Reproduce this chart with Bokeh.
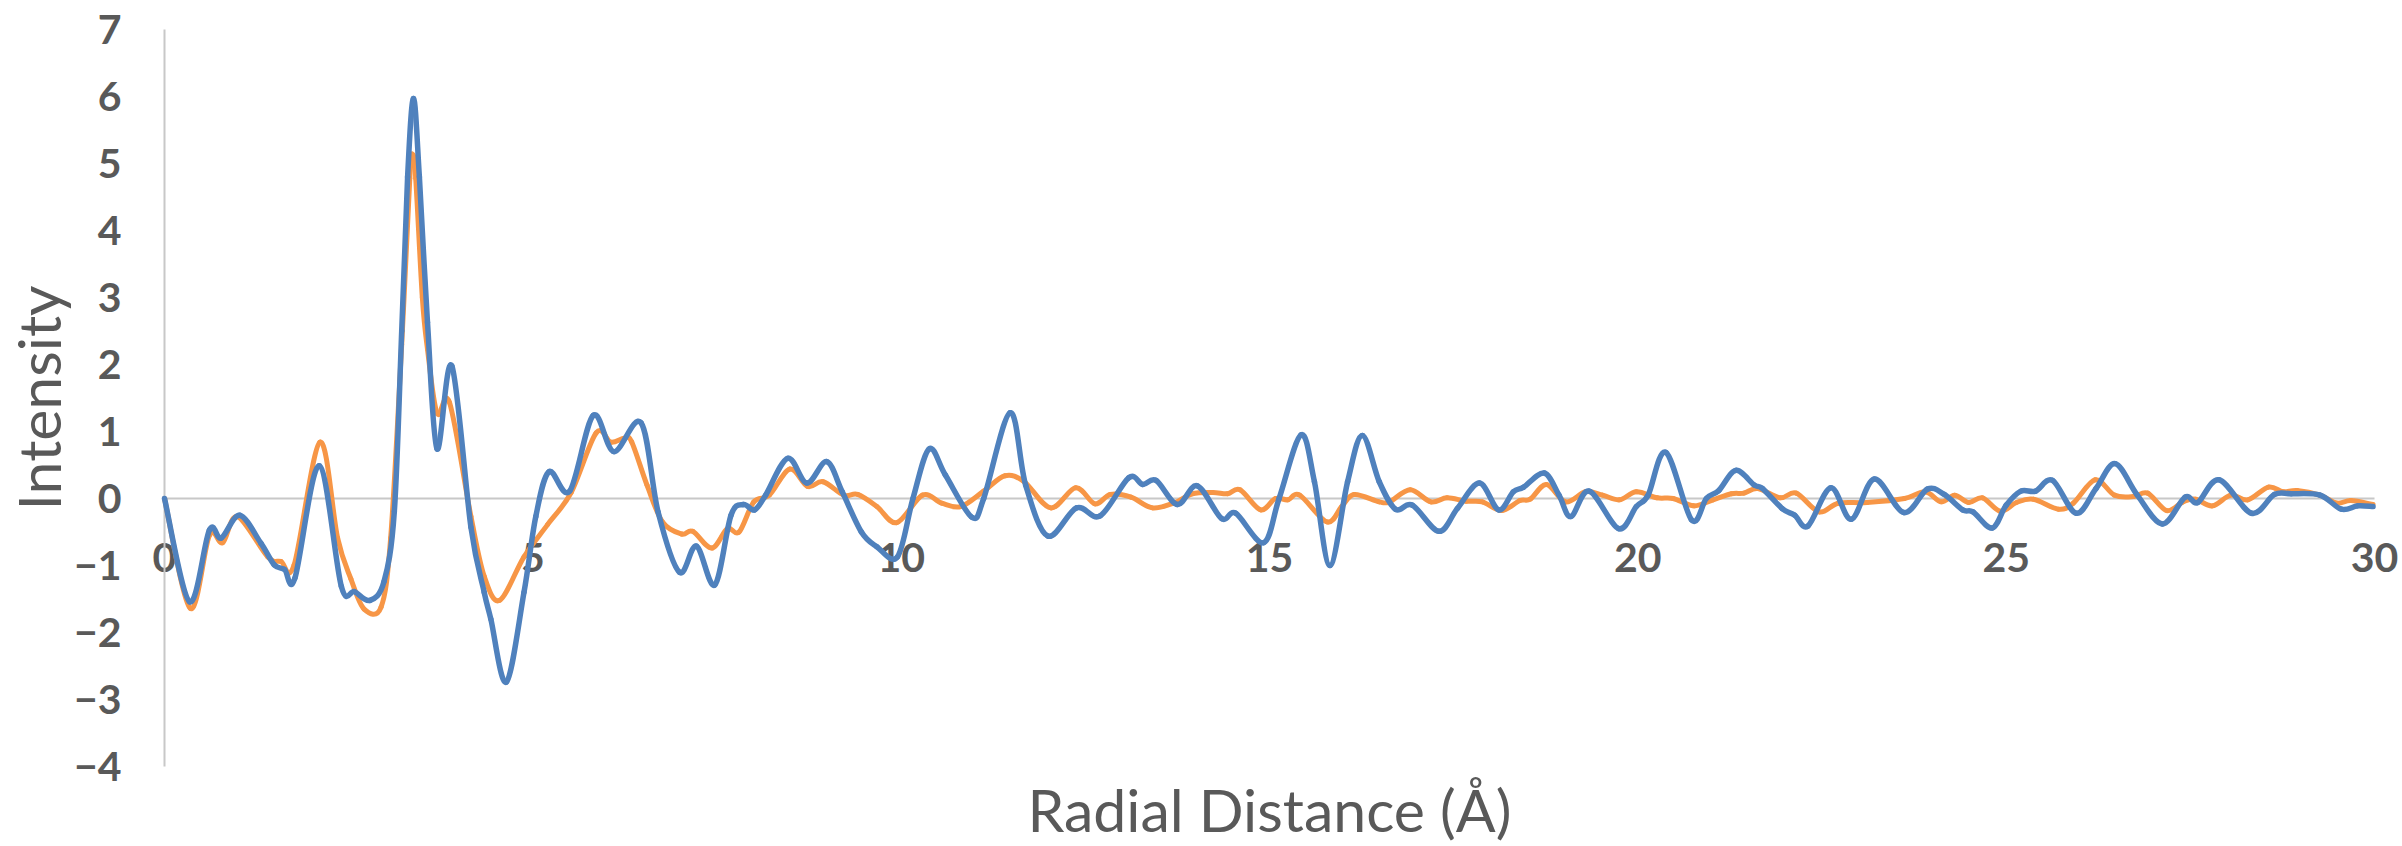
from bokeh.plotting import figure
from bokeh.models import Range1d, LinearAxis, FixedTicker, ColumnDataSource
from bokeh.embed import file_html
from bokeh.resources import INLINE

# ---- data ----
blue_r = [0.00, 0.34, 0.61, 0.77, 1.02, 1.31, 1.49, 1.63, 1.77, 2.10, 2.40, 2.58, 2.79, 2.98, 3.12,
          3.22, 3.30, 3.38, 3.46, 3.57, 3.70, 3.90, 4.16, 4.34, 4.43, 4.64, 4.88, 5.04, 5.22,
          5.50, 5.82, 6.10, 6.47, 6.70, 6.99, 7.22, 7.47, 7.69, 7.86, 8.01, 8.16, 8.46, 8.72, 8.99,
          9.20, 9.46, 9.67, 9.95, 10.16, 10.38, 10.60, 10.96, 11.12, 11.48, 11.69, 11.99, 12.38,
          12.70, 13.09, 13.28, 13.46, 13.75, 14.02, 14.35, 14.54, 14.92, 15.13, 15.43, 15.61,
          15.82, 16.06, 16.26, 16.49, 16.71, 16.94, 17.30, 17.55, 17.85, 18.11, 18.31, 18.45,
          18.73, 18.93, 19.09, 19.34, 19.74, 19.98, 20.14, 20.38, 20.73, 20.93, 21.10, 21.33,
          21.58, 21.69, 21.96, 22.13, 22.31, 22.62, 22.90, 23.21, 23.61, 23.93, 24.16, 24.41,
          24.55, 24.81, 25.00, 25.20, 25.40, 25.63, 25.95, 26.22, 26.48, 26.78, 27.12, 27.43,
          27.60, 27.89, 28.33, 28.64, 28.87, 29.26, 29.55, 29.77, 29.98]
blue_g = [0.00, -1.54, -0.47, -0.59, -0.25, -0.67, -0.99, -1.06, -1.19, 0.49, -1.31, -1.39, -1.52, -1.24, -0.19,
          2.50, 4.80, 5.97, 4.80, 2.63, 0.74, 1.98, -0.43, -1.40, -1.80, -2.74, -1.40, -0.27, 0.40,
          0.11, 1.24, 0.70, 1.13, -0.20, -1.10, -0.71, -1.29, -0.25, -0.09, -0.17, 0.05, 0.60, 0.23, 0.55,
          0.10, -0.50, -0.72, -0.87, 0.00, 0.74, 0.35, -0.28, 0.00, 1.28, 0.20, -0.56, -0.14,
          -0.26, 0.31, 0.21, 0.27, -0.09, 0.19, -0.30, -0.22, -0.66, 0.00, 0.95, 0.25,
          -1.00, 0.25, 0.94, 0.25, -0.16, -0.10, -0.49, -0.15, 0.23, -0.17, 0.10, 0.17,
          0.38, 0.05, -0.27, 0.11, -0.45, -0.12, 0.05, 0.69, -0.32, 0.00, 0.12, 0.42,
          0.20, 0.15, -0.15, -0.25, -0.41, 0.16, -0.31, 0.29, -0.21, 0.14, 0.06, -0.17,
          -0.20, -0.44, -0.10, 0.11, 0.11, 0.27, -0.22, 0.15, 0.52, 0.05, -0.38, 0.02,
          -0.06, 0.28, -0.22, 0.06, 0.07, 0.05, -0.16, -0.11, -0.12]

orange_r = [0.00, 0.35, 0.61, 0.79, 0.99, 1.40, 1.58, 1.76, 2.11, 2.35, 2.53, 2.71, 2.94, 3.07,
            3.22, 3.33, 3.37, 3.41, 3.50, 3.57, 3.70, 3.87, 4.16, 4.34, 4.55, 4.88, 5.20, 5.52, 5.86,
            6.06, 6.24, 6.34, 6.55, 6.76, 7.02, 7.17, 7.43, 7.64, 7.80, 8.00, 8.21, 8.49, 8.73, 8.94,
            9.22, 9.41, 9.67, 9.94, 10.29, 10.55, 10.81, 11.12, 11.41, 11.67, 12.03, 12.37, 12.63,
            12.84, 13.12, 13.41, 13.72, 13.95, 14.23, 14.43, 14.60, 14.88, 15.08, 15.25, 15.41,
            15.78, 15.98, 16.15, 16.49, 16.63, 16.91, 17.19, 17.41, 17.67, 17.89, 18.15, 18.40,
            18.54, 18.76, 19.02, 19.29, 19.52, 19.75, 19.98, 20.26, 20.48, 20.76, 21.02, 21.27,
            21.44, 21.63, 21.93, 22.15, 22.46, 22.72, 23.11, 23.62, 23.90, 24.12, 24.30, 24.49,
            24.68, 24.92, 25.14, 25.37, 25.71, 25.91, 26.21, 26.47, 26.73, 26.92, 27.18, 27.40,
            27.57, 27.80, 28.05, 28.28, 28.56, 28.76, 28.95, 29.26, 29.49, 29.68, 29.98]
orange_g = [0.00, -1.64, -0.55, -0.66, -0.27, -0.87, -0.94, -0.99, 0.84, -0.59, -1.20, -1.65, -1.62, -0.59,
            2.30, 4.78, 5.13, 4.78, 3.00, 2.23, 1.27, 1.43, -0.27, -1.16, -1.52, -0.87, -0.39, 0.09, 0.98,
            0.84, 0.90, 0.85, 0.20, -0.35, -0.53, -0.49, -0.74, -0.45, -0.50, -0.05, 0.05, 0.44, 0.18, 0.25,
            0.05, 0.06, -0.12, -0.36, 0.05, -0.07, -0.12, 0.11, 0.34, 0.25, -0.14, 0.16, -0.08,
            0.06, 0.02, -0.14, -0.06, 0.07, 0.09, 0.07, 0.13, -0.17, 0.00, -0.02, 0.05,
            -0.35, -0.12, 0.06, -0.05, -0.05, 0.13, -0.05, 0.01, -0.04, -0.05, -0.18, -0.03,
            -0.01, 0.21, -0.05, 0.10, 0.05, -0.02, 0.10, 0.01, 0.00, -0.11, -0.02, 0.07,
            0.08, 0.15, 0.01, 0.08, -0.20, -0.07, -0.06, 0.00, 0.10, -0.05, 0.05, -0.06,
            0.01, -0.19, -0.06, -0.01, -0.16, -0.07, 0.28, 0.05, 0.03, 0.08, -0.18, -0.05,
            -0.01, -0.11, 0.05, -0.02, 0.17, 0.10, 0.12, 0.05, -0.07, -0.03, -0.09]

x_ticks = [0, 5, 10, 15, 20, 25, 30]
y_ticks = [-4, -3, -2, -1, 0, 1, 2, 3, 4, 5, 6, 7]
x_title = "Radial Distance (Å)"
y_title = "Intensity"

GREY = "#595959"
AXIS = "#c8c8c8"

# ---- layout (pixels) ----
W, H = 2402, 846
X0_PX, X30_PX = 164.0, 2374.0     # where r=0 and r=30 sit
Y7_PX, YM4_PX = 29.0, 766.0       # where 7 and -4 sit (from top)
sx = (X30_PX - X0_PX) / 30.0
sy = (YM4_PX - Y7_PX) / 11.0
x_lo = 0 - X0_PX / sx
x_hi = 30 + (W - X30_PX) / sx
y_hi = 7 + Y7_PX / sy
y_lo = -4 - (H - YM4_PX) / sy

p = figure(width=W, height=H, x_range=Range1d(x_lo, x_hi), y_range=Range1d(y_lo, y_hi),
           output_backend="svg", toolbar_location=None,
           x_axis_location=None, y_axis_location=None,
           min_border_left=0, min_border_right=0, min_border_top=0, min_border_bottom=0)
p.title.visible = False
p.outline_line_color = None
p.xgrid.visible = False
p.ygrid.visible = False
p.background_fill_color = "white"
p.border_fill_color = "white"


def style_axis(ax):
    ax.axis_line_color = AXIS
    ax.axis_line_width = 2
    ax.major_tick_line_color = None
    ax.minor_tick_line_color = None
    ax.major_tick_out = 0
    ax.major_tick_in = 0
    ax.minor_tick_out = 0
    ax.minor_tick_in = 0
    ax.major_label_text_font = "Lato"
    ax.major_label_text_font_style = "bold"
    ax.major_label_text_font_size = "41px"
    ax.major_label_text_color = GREY
    ax.axis_label_text_font = "Lato"
    ax.axis_label_text_font_style = "normal"
    ax.axis_label_text_font_size = "59px"
    ax.axis_label_text_color = GREY
    ax.level = "underlay"


# y axis at r = 0
yax = LinearAxis(ticker=FixedTicker(ticks=y_ticks), axis_label=y_title,
                 fixed_location=0, bounds=(-4, 7))
style_axis(yax)
yax.major_label_standoff = 43
yax.axis_label_standoff = -3
p.add_layout(yax, "left")

# x axis crossing at intensity = 0
xax = LinearAxis(ticker=FixedTicker(ticks=x_ticks), fixed_location=0, bounds=(0, 30))
style_axis(xax)
xax.major_label_standoff = 44
p.add_layout(xax, "below")

# x axis title, under the plot area
tax = LinearAxis(ticker=FixedTicker(ticks=[]), axis_label=x_title,
                 fixed_location=-4, bounds=(0, 30))
style_axis(tax)
tax.axis_line_color = None
tax.axis_label_standoff = 7
p.add_layout(tax, "below")


def smooth_segments(xs, ys):
    """Bezier segments through the read points (Excel-style smoothed line)."""
    n = len(xs)
    d = dict(x0=[], y0=[], x1=[], y1=[], cx0=[], cy0=[], cx1=[], cy1=[])
    for i in range(n - 1):
        xa, ya = xs[i], ys[i]
        xb, yb = xs[i + 1], ys[i + 1]
        xm, ym = (xs[i - 1], ys[i - 1]) if i > 0 else (xa, ya)
        xp, yp = (xs[i + 2], ys[i + 2]) if i + 2 < n else (xb, yb)
        d["x0"].append(xa); d["y0"].append(ya)
        d["x1"].append(xb); d["y1"].append(yb)
        d["cx0"].append(xa + (xb - xm) / 6.0); d["cy0"].append(ya + (yb - ym) / 6.0)
        d["cx1"].append(xb - (xp - xa) / 6.0); d["cy1"].append(yb - (yp - ya) / 6.0)
    return ColumnDataSource(d)


src_o = smooth_segments(orange_r, orange_g)
src_b = smooth_segments(blue_r, blue_g)
p.bezier("x0", "y0", "x1", "y1", "cx0", "cy0", "cx1", "cy1", source=src_o,
         line_color="#F79646", line_width=5, line_cap="round")
p.bezier("x0", "y0", "x1", "y1", "cx0", "cy0", "cx1", "cy1", source=src_b,
         line_color="#4F81BD", line_width=5.5, line_cap="round")

open("out.html", "w").write(file_html(p, INLINE))
